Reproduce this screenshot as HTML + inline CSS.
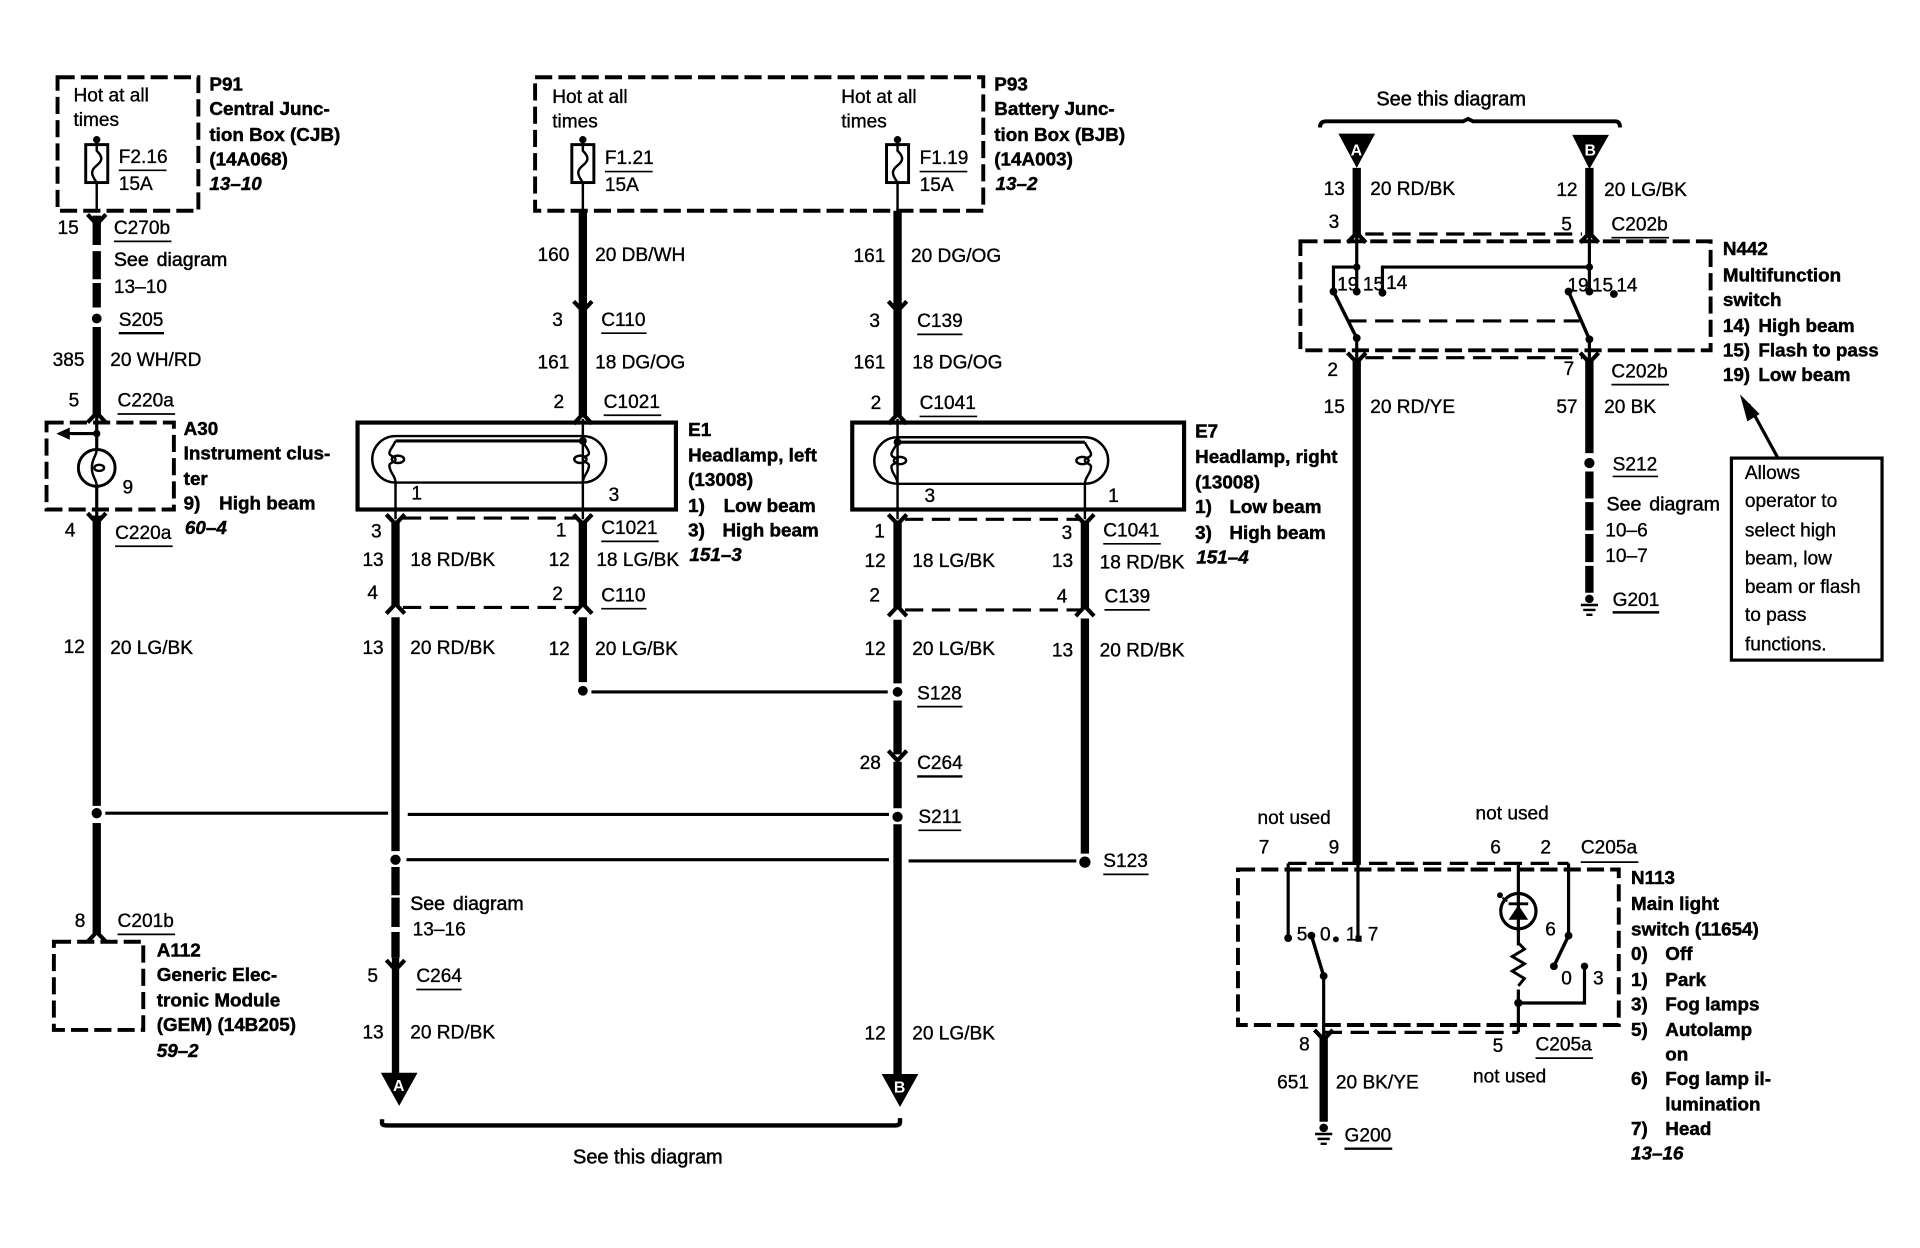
<!DOCTYPE html>
<html><head><meta charset="utf-8"><style>
html,body{margin:0;padding:0;background:#fff;width:1920px;height:1248px;overflow:hidden}
svg{display:block}
text{font-family:"Liberation Sans",sans-serif;font-size:15.6px;fill:#000;stroke:#000;stroke-width:.28}
.b{font-weight:bold;font-size:15.4px;stroke-width:.38}
.i{font-weight:bold;font-style:italic;font-size:15.4px;stroke-width:.38}
.w{fill:#fff;stroke:none;font-size:13px;font-weight:bold}
.s{font-size:16px;word-spacing:2px;stroke-width:.4}
.h{font-size:16.3px;stroke-width:.4}
.d{fill:none;stroke:#000;stroke-width:3.2;stroke-dasharray:14 5}
.c{fill:none;stroke:#000;stroke-width:2.6;stroke-dasharray:15 7}
.t{fill:none;stroke:#000;stroke-width:2}
.m{fill:none;stroke:#000;stroke-width:2.6}
.k{fill:none;stroke:#000;stroke-width:6.8}
.u{stroke:#000;stroke-width:1.4}
</style></head><body>
<svg xmlns="http://www.w3.org/2000/svg" width="1920" height="1248" viewBox="0 0 1568 1019">
<defs>
<path id="cd" d="M-7.5 -5 L0 3 L7.5 -5" fill="none" stroke="#000" stroke-width="3.4"/>
<path id="cu" d="M-7.5 5 L0 -3 L7.5 5" fill="none" stroke="#000" stroke-width="3.4"/>
<g id="fuse"><rect x="-9" y="5" width="18" height="31" fill="#fff" stroke="#000" stroke-width="2.4"/><path d="M0 0V10C5 15 5 18 0 22C-5 26 -5 29 0 36V59" class="t"/><circle cx="0" cy="1" r="3"/></g>
<g id="lamp"><rect x="-19" y="11" width="191" height="38" rx="19" class="t"/><path d="M0 15H153" class="m"/><path d="M0 15C-2 20 -5 22 -5 25C-5 28 0 27 0 30C0 33 -5 32 -5 35C-5 41 0 43 0 49" class="t"/><ellipse cx="2" cy="30" rx="5" ry="3" class="t"/><path d="M153 15C155 20 158 22 158 25C158 28 153 27 153 30C153 33 158 32 158 35C158 41 153 43 153 49" class="t"/><ellipse cx="151" cy="30" rx="5" ry="3" class="t"/></g>
<g id="gnd"><circle cx="0" cy="-3" r="3.5"/><path d="M-7 2H7M-5 6H5M-2.5 10H2.5" stroke="#000" stroke-width="2"/></g>
</defs>

<!-- P91 -->
<rect x="47" y="63" width="115" height="109" class="d"/>
<text x="60" y="83">Hot at all</text><text x="60" y="103">times</text>
<use href="#fuse" x="79" y="113"/>
<text x="97" y="133">F2.16</text><line x1="97" y1="139" x2="136" y2="139" class="u"/><text x="97" y="155">15A</text>
<text class="b" x="171" y="74">P91</text><text class="b" x="171" y="94">Central Junc-</text><text class="b" x="171" y="115">tion Box (CJB)</text><text class="b" x="171" y="135">(14A068)</text><text class="i" x="171" y="155">13–10</text>
<use href="#cd" x="79" y="180"/>
<path d="M79 176V200M79 205V228M79 231V251" class="k"/>
<text x="47" y="191">15</text><text x="93" y="191">C270b</text><line x1="93" y1="197" x2="140" y2="197" class="u"/>
<text class="s" x="93" y="217">See diagram</text><text x="93" y="239">13–10</text>
<circle cx="79" cy="260" r="4"/>
<text x="97" y="266">S205</text><line x1="97" y1="272" x2="134" y2="272" class="u" style="stroke-width:2"/>
<path d="M79 267V340" class="k"/><use href="#cu" x="79" y="340"/>
<text x="43" y="299">385</text><text x="90" y="299">20 WH/RD</text>
<text x="56" y="332">5</text><text x="96" y="332">C220a</text><line x1="96" y1="338" x2="143" y2="338" class="u"/>

<!-- A30 -->
<rect x="38" y="345" width="104" height="71" class="d"/>
<path d="M79 340V423" class="m"/><circle cx="79" cy="354" r="3"/>
<path d="M79 354H54" class="m"/><path d="M46 354L57 349V359Z"/>
<circle cx="79" cy="382" r="15" fill="#fff" stroke="#000" stroke-width="2.4"/>
<path d="M79 367C79 372 75 374 75 382C75 390 79 391 79 397" class="t"/><ellipse cx="81" cy="382" rx="4" ry="2.5" class="t"/>
<text x="100" y="403">9</text>
<text class="b" x="150" y="355">A30</text><text class="b" x="150" y="375">Instrument clus-</text><text class="b" x="150" y="396">ter</text><text class="b" x="150" y="416">9)</text><text class="b" x="179" y="416">High beam</text><text class="i" x="151" y="436">60–4</text>
<use href="#cd" x="79" y="424"/>
<path d="M79 421V658M79 672V762" class="k"/>
<text x="53" y="438">4</text><text x="94" y="440">C220a</text><line x1="94" y1="446" x2="141" y2="446" class="u"/>
<text x="52" y="533">12</text><text x="90" y="534">20 LG/BK</text>
<circle cx="79" cy="664" r="4.2"/>
<path d="M86 664H317M333 665H726" stroke="#000" stroke-width="2.6"/>
<text x="61" y="757">8</text><text x="96" y="757">C201b</text><line x1="96" y1="763" x2="143" y2="763" class="u"/>
<use href="#cu" x="79" y="764"/>
<rect x="44" y="769" width="73" height="72" class="d"/>
<text class="b" x="128" y="781">A112</text><text class="b" x="128" y="801">Generic Elec-</text><text class="b" x="128" y="822">tronic Module</text><text class="b" x="128" y="842">(GEM) (14B205)</text><text class="i" x="128" y="863">59–2</text>

<!-- P93 -->
<rect x="437" y="63" width="366" height="109" class="d"/>
<text x="451" y="84">Hot at all</text><text x="451" y="104">times</text><text x="687" y="84">Hot at all</text><text x="687" y="104">times</text>
<use href="#fuse" x="476" y="113"/><use href="#fuse" x="733" y="113"/>
<text x="494" y="134">F1.21</text><line x1="494" y1="140" x2="533" y2="140" class="u"/><text x="494" y="156">15A</text>
<text x="751" y="134">F1.19</text><line x1="751" y1="140" x2="790" y2="140" class="u"/><text x="751" y="156">15A</text>
<text class="b" x="812" y="74">P93</text><text class="b" x="812" y="94">Battery Junc-</text><text class="b" x="812" y="115">tion Box (BJB)</text><text class="b" x="812" y="135">(14A003)</text><text class="i" x="813" y="155">13–2</text>
<path d="M476 172V340M733 172V340" class="k"/>
<use href="#cd" x="476" y="251"/><use href="#cd" x="733" y="251"/><use href="#cu" x="476" y="341"/><use href="#cu" x="733" y="341"/>
<text x="439" y="213">160</text><text x="486" y="213">20 DB/WH</text>
<text x="451" y="266">3</text><text x="491" y="266">C110</text><line x1="491" y1="272" x2="528" y2="272" class="u"/>
<text x="439" y="301">161</text><text x="486" y="301">18 DG/OG</text>
<text x="452" y="333">2</text><text x="493" y="333">C1021</text><line x1="493" y1="339" x2="540" y2="339" class="u"/>
<text x="697" y="214">161</text><text x="744" y="214">20 DG/OG</text>
<text x="710" y="267">3</text><text x="749" y="267">C139</text><line x1="749" y1="273" x2="786" y2="273" class="u"/>
<text x="697" y="301">161</text><text x="745" y="301">18 DG/OG</text>
<text x="711" y="334">2</text><text x="751" y="334">C1041</text><line x1="751" y1="340" x2="798" y2="340" class="u"/>

<!-- E1 / E7 -->
<rect x="292" y="345" width="260" height="71" fill="none" stroke="#000" stroke-width="3.4"/>
<rect x="696" y="345" width="271" height="71" fill="none" stroke="#000" stroke-width="3.4"/>
<use href="#lamp" x="323" y="345"/>
<use href="#lamp" x="733" y="346"/>
<circle cx="476" cy="360" r="3.2"/><circle cx="733" cy="361" r="3.2"/>
<path d="M476 342V424M323 394V424M733 342V424M886 395V424" class="t"/>
<text x="336" y="408">1</text><text x="497" y="409">3</text><text x="755" y="410">3</text><text x="905" y="410">1</text>
<text class="b" x="562" y="356">E1</text><text class="b" x="562" y="377">Headlamp, left</text><text class="b" x="562" y="397">(13008)</text><text class="b" x="562" y="418">1)</text><text class="b" x="591" y="418">Low beam</text><text class="b" x="562" y="438">3)</text><text class="b" x="590" y="438">High beam</text><text class="i" x="563" y="458">151–3</text>
<text class="b" x="976" y="357">E7</text><text class="b" x="976" y="378">Headlamp, right</text><text class="b" x="976" y="399">(13008)</text><text class="b" x="976" y="419">1)</text><text class="b" x="1004" y="419">Low beam</text><text class="b" x="976" y="440">3)</text><text class="b" x="1004" y="440">High beam</text><text class="i" x="977" y="460">151–4</text>

<!-- harness left -->
<path d="M329 423H472M329 496H472M739 424H882M739 498H882" class="c"/>
<use href="#cd" x="323" y="425"/><use href="#cd" x="476" y="425"/><use href="#cd" x="733" y="425"/><use href="#cd" x="886" y="425"/>
<use href="#cu" x="323" y="496"/><use href="#cu" x="476" y="496"/><use href="#cu" x="733" y="498"/><use href="#cu" x="886" y="498"/>
<path d="M323 425V494M476 425V494M733 425V496M886 425V496" class="k"/>
<path d="M323 504V695M476 504V557M733 506V558M733 572V616M733 622V660M733 673V878M886 505V697" class="k"/>
<path d="M323 708V731M323 733V757M323 761V782" class="k"/><path d="M323 782V878" stroke="#000" stroke-width="6"/>
<use href="#cd" x="323" y="789"/><use href="#cd" x="733" y="618"/>
<text x="303" y="439">3</text><text x="454" y="438">1</text>
<text x="296" y="462">13</text><text x="335" y="462">18 RD/BK</text><text x="448" y="462">12</text><text x="487" y="462">18 LG/BK</text>
<text x="491" y="436">C1021</text><line x1="491" y1="442" x2="538" y2="442" class="u"/>
<text x="300" y="489">4</text><text x="451" y="490">2</text><text x="491" y="491">C110</text><line x1="491" y1="497" x2="528" y2="497" class="u"/>
<text x="296" y="534">13</text><text x="335" y="534">20 RD/BK</text><text x="448" y="535">12</text><text x="486" y="535">20 LG/BK</text>
<text x="714" y="439">1</text><text x="867" y="440">3</text><text x="901" y="438">C1041</text><line x1="901" y1="444" x2="948" y2="444" class="u"/>
<text x="706" y="463">12</text><text x="745" y="463">18 LG/BK</text><text x="859" y="463">13</text><text x="898" y="464">18 RD/BK</text>
<text x="710" y="491">2</text><text x="863" y="492">4</text><text x="902" y="492">C139</text><line x1="902" y1="498" x2="939" y2="498" class="u"/>
<text x="706" y="535">12</text><text x="745" y="535">20 LG/BK</text><text x="859" y="536">13</text><text x="898" y="536">20 RD/BK</text>
<circle cx="476" cy="564" r="4"/><circle cx="733" cy="565" r="4"/><circle cx="733" cy="667" r="4.2"/><circle cx="323" cy="702" r="4.2"/><circle cx="886" cy="704" r="4.6"/>
<path d="M483 565H725M332 702H726M742 703H879" stroke="#000" stroke-width="2.6"/>
<text x="749" y="571">S128</text><line x1="749" y1="577" x2="786" y2="577" class="u"/>
<text x="702" y="628">28</text><text x="749" y="628">C264</text><line x1="749" y1="634" x2="786" y2="634" class="u" style="stroke-width:2"/>
<text x="750" y="672">S211</text><line x1="750" y1="678" x2="785" y2="678" class="u"/>
<text x="901" y="708">S123</text><line x1="901" y1="714" x2="938" y2="714" class="u"/>
<text class="s" x="335" y="743">See diagram</text><text x="337" y="764">13–16</text>
<text x="300" y="802">5</text><text x="340" y="802">C264</text><line x1="340" y1="808" x2="377" y2="808" class="u"/>
<text x="296" y="848">13</text><text x="335" y="848">20 RD/BK</text>
<text x="706" y="849">12</text><text x="745" y="849">20 LG/BK</text>
<path d="M311 876H341L326 903Z"/><text class="w" x="321" y="891">A</text>
<path d="M720 877H750L735 904Z"/><text class="w" x="730" y="892">B</text>
<path d="M312 914V917Q312 919 316 919H731Q735 919 735 916V913" fill="none" stroke="#000" stroke-width="3.6"/>
<text class="h" x="468" y="950">See this diagram</text>

<!-- N442 -->
<text class="h" x="1124" y="86">See this diagram</text>
<path d="M1078 104Q1078 99 1083 99H1195L1199 97L1203 99H1319Q1323 99 1323 104" fill="none" stroke="#000" stroke-width="3.2"/>
<path d="M1093 109H1123L1108 137Z"/><text class="w" x="1103" y="127">A</text>
<path d="M1284 110H1314L1298 138Z"/><text class="w" x="1294" y="127">B</text>
<path d="M1108 137V192M1298 137V192" class="k"/>
<use href="#cu" x="1108" y="193"/><use href="#cu" x="1298" y="193"/>
<path d="M1115 191H1292M1115 292H1292" class="c"/>
<text x="1081" y="159">13</text><text x="1119" y="159">20 RD/BK</text><text x="1271" y="160">12</text><text x="1310" y="160">20 LG/BK</text>
<text x="1085" y="186">3</text><text x="1275" y="188">5</text><text x="1316" y="188">C202b</text><line x1="1316" y1="194" x2="1363" y2="194" class="u"/>
<rect x="1062" y="197" width="335" height="89" class="d"/>
<path d="M1108 190V238M1298 190V238M1108 276V292M1298 277V292" class="m"/>
<path d="M1108 218H1089V238M1298 218H1129V238" class="m"/>
<path d="M1089 238L1108 276M1281 238L1298 277" stroke="#000" stroke-width="2.8"/>
<path d="M1101 262H1290" class="c"/>
<circle cx="1108" cy="218" r="3"/><circle cx="1298" cy="218" r="3"/><circle cx="1089" cy="238" r="3.2"/><circle cx="1108" cy="238" r="3.2"/><circle cx="1129" cy="239" r="3.2"/><circle cx="1281" cy="238" r="3.2"/><circle cx="1298" cy="238" r="3.2"/><circle cx="1318" cy="240" r="3.2"/><circle cx="1108" cy="276" r="3.2"/><circle cx="1298" cy="277" r="3.2"/>
<text x="1092" y="237">19</text><text x="1113" y="237">15</text><text x="1132" y="236">14</text><text x="1280" y="238">19</text><text x="1300" y="238">15</text><text x="1320" y="238">14</text>
<text class="b" x="1407" y="208">N442</text><text class="b" x="1407" y="230">Multifunction</text><text class="b" x="1407" y="250">switch</text><text class="b" x="1407" y="271">14)</text><text class="b" x="1436" y="271">High beam</text><text class="b" x="1407" y="291">15)</text><text class="b" x="1436" y="291">Flash to pass</text><text class="b" x="1407" y="311">19)</text><text class="b" x="1436" y="311">Low beam</text>
<use href="#cd" x="1108" y="293"/><use href="#cd" x="1298" y="293"/>
<path d="M1108 292V706M1298 292V370M1298 385V407M1298 410V433M1298 436V459M1298 462V484" class="k"/>
<circle cx="1298" cy="378" r="4.2"/>
<use href="#gnd" x="1298" y="492"/>
<text x="1084" y="307">2</text><text x="1277" y="306">7</text><text x="1316" y="308">C202b</text><line x1="1316" y1="314" x2="1363" y2="314" class="u"/>
<text x="1081" y="337">15</text><text x="1119" y="337">20 RD/YE</text><text x="1271" y="337">57</text><text x="1310" y="337">20 BK</text>
<text x="1317" y="384">S212</text><line x1="1317" y1="389" x2="1354" y2="389" class="u"/>
<text class="s" x="1312" y="417">See diagram</text><text x="1311" y="438">10–6</text><text x="1311" y="459">10–7</text>
<text x="1317" y="495">G201</text><line x1="1317" y1="500" x2="1355" y2="500" class="u" style="stroke-width:2"/>
<rect x="1414" y="374" width="123" height="165" fill="none" stroke="#000" stroke-width="2.6"/>
<path d="M1452 374L1428 330" stroke="#000" stroke-width="2.6"/><path d="M1421 322L1437 338L1427 344Z"/>
<text x="1425" y="391">Allows</text><text x="1425" y="414">operator to</text><text x="1425" y="438">select high</text><text x="1425" y="461">beam, low</text><text x="1425" y="484">beam or flash</text><text x="1425" y="507">to pass</text><text x="1425" y="531">functions.</text>

<!-- N113 -->
<text x="1027" y="673">not used</text><text x="1205" y="669">not used</text>
<text x="1028" y="697">7</text><text x="1085" y="697">9</text><text x="1217" y="697">6</text><text x="1258" y="697">2</text><text x="1291" y="697">C205a</text><line x1="1291" y1="704" x2="1338" y2="704" class="u"/>
<rect x="1011" y="710" width="311" height="127" class="d"/>
<path d="M1052 705H1281" class="c"/>
<path d="M1052 705V766M1109 705V766M1281 705V764M1240 705V843M1294 789V819H1240M1081 797V848" class="m"/>
<path d="M1081 843H1240" class="c"/>
<path d="M1071 764L1081 797M1281 764L1269 789" stroke="#000" stroke-width="2.8"/>
<circle cx="1052" cy="766" r="3.2"/><circle cx="1091" cy="767" r="2.4"/><rect x="1107" y="764" width="5" height="5"/><circle cx="1071" cy="764" r="3.2"/><circle cx="1081" cy="797" r="3.2"/><circle cx="1281" cy="764" r="3.2"/><circle cx="1269" cy="789" r="3.2"/><circle cx="1294" cy="789" r="3"/><circle cx="1240" cy="819" r="3.4"/>
<circle cx="1240" cy="744" r="14.4" fill="#fff" stroke="#000" stroke-width="2.6"/>
<path d="M1240 729V759" class="m"/><path d="M1232 751L1240 739L1248 751Z"/><path d="M1232 738H1248" stroke="#000" stroke-width="2.4"/>
<circle cx="1225" cy="731" r="2.4"/><path d="M1227 733L1231 736" stroke="#000" stroke-width="1.6"/>
<rect x="1233" y="772" width="14" height="36" fill="#fff"/>
<path d="M1240 770L1245 775L1235 781L1245 787L1235 793L1245 799L1240 805" fill="none" stroke="#000" stroke-width="2.4"/>
<text x="1059" y="768">5</text><text x="1078" y="768">0</text><text x="1099" y="768">1</text><text x="1117" y="768">7</text><text x="1262" y="764">6</text><text x="1275" y="804">0</text><text x="1301" y="804">3</text>
<text class="b" x="1332" y="722">N113</text><text class="b" x="1332" y="743">Main light</text><text class="b" x="1332" y="764">switch (11654)</text>
<text class="b" x="1332" y="784">0)</text><text class="b" x="1360" y="784">Off</text><text class="b" x="1332" y="805">1)</text><text class="b" x="1360" y="805">Park</text><text class="b" x="1332" y="825">3)</text><text class="b" x="1360" y="825">Fog lamps</text><text class="b" x="1332" y="846">5)</text><text class="b" x="1360" y="846">Autolamp</text><text class="b" x="1360" y="866">on</text><text class="b" x="1332" y="886">6)</text><text class="b" x="1360" y="886">Fog lamp il-</text><text class="b" x="1360" y="907">lumination</text><text class="b" x="1332" y="927">7)</text><text class="b" x="1360" y="927">Head</text><text class="i" x="1332" y="947">13–16</text>
<use href="#cd" x="1081" y="846"/>
<path d="M1081 846V916" class="k"/>
<use href="#gnd" x="1081" y="924"/>
<text x="1061" y="858">8</text><text x="1219" y="859">5</text><text x="1254" y="858">C205a</text><line x1="1254" y1="864" x2="1301" y2="864" class="u"/>
<text x="1203" y="884">not used</text>
<text x="1043" y="889">651</text><text x="1091" y="889">20 BK/YE</text>
<text x="1098" y="932">G200</text><line x1="1098" y1="938" x2="1137" y2="938" class="u" style="stroke-width:2"/>
</svg>
</body></html>
